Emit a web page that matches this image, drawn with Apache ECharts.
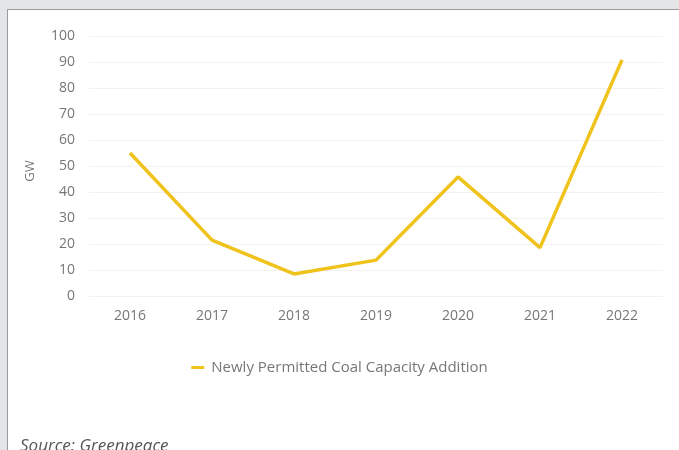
<!DOCTYPE html>
<html>
<head>
<meta charset="utf-8">
<script src="https://cdn.jsdelivr.net/npm/echarts@6/dist/echarts.min.js"></script>
<style>
  html, body { margin: 0; padding: 0; background: #e4e5e7; width: 679px; height: 450px; overflow: hidden; }
  #panel { position: absolute; left: 7px; top: 9px; width: 680px; height: 460px; background: #fff;
           border-left: 1px solid #9a9a9a; border-top: 1px solid #9a9a9a; }
  #chart { position: absolute; left: 0; top: 0; width: 679px; height: 450px; }
</style>
</head>
<body>
<div id="panel"></div>
<div id="chart"></div>
<script>
// Newly permitted coal capacity in China, GW per year
const years = ['2016', '2017', '2018', '2019', '2020', '2021', '2022'];
const permittedGW = [55, 21.5, 8.5, 13.8, 45.8, 18.6, 90.8];
const seriesName = 'Newly Permitted Coal Capacity Addition';
const sourceNote = 'Source: Greenpeace';

const font = '"Open Sans", "Noto Sans", sans-serif';
const chart = echarts.init(document.getElementById('chart'));
chart.setOption({
  animation: false,
  textStyle: { fontFamily: font },
  grid: { left: 89, right: 16, top: 36, height: 260 },
  legend: {
    data: [seriesName],
    top: 355,
    left: 'center',
    itemWidth: 13,
    itemHeight: 3,
    itemGap: 10,
    icon: 'rect',
    textStyle: { color: '#777', fontSize: 15, fontFamily: font, padding: [0, 0, 0, 2] }
  },
  xAxis: {
    type: 'category',
    data: years,
    boundaryGap: true,
    axisLine: { show: false },
    axisTick: { show: false },
    axisLabel: { color: '#777', fontSize: 14, margin: 13 }
  },
  yAxis: {
    type: 'value',
    min: 0,
    max: 100,
    interval: 10,
    name: 'GW',
    nameLocation: 'middle',
    nameGap: 52,
    nameRotate: 90,
    nameTextStyle: { color: '#777', fontSize: 13, padding: [0, 10, 0, 0] },
    axisLabel: { color: '#777', fontSize: 14, margin: 14 },
    splitLine: { lineStyle: { color: '#f2f2f2', width: 1 } }
  },
  series: [{
    name: seriesName,
    type: 'line',
    data: permittedGW,
    symbol: 'none',
    lineStyle: { color: '#efc21c', width: 3.5 },
    itemStyle: { color: '#efc21c' }
  }],
  graphic: [{
    type: 'text',
    left: 20,
    top: 438,
    style: { text: sourceNote, fill: '#555', font: 'italic 17px ' + font }
  }]
});
</script>
</body>
</html>
